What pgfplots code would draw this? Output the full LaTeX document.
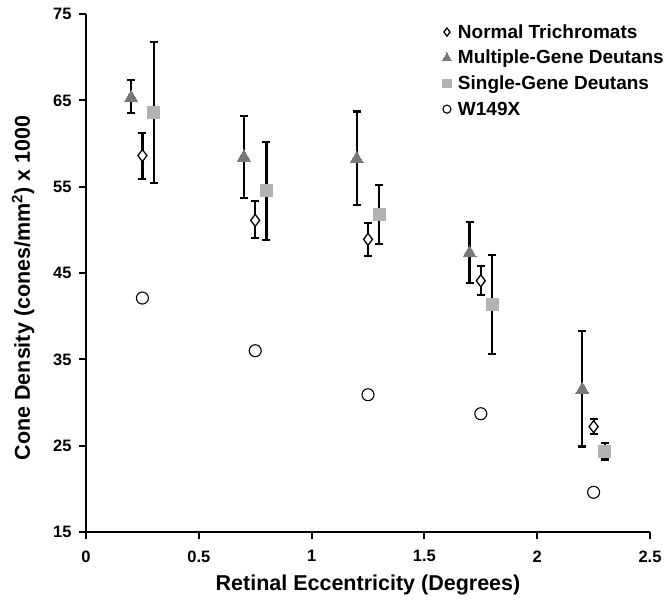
\documentclass[border=0pt]{standalone}
\usepackage{pgfplots}
\pgfplotsset{compat=1.18}
\usepackage{fontspec}
\setmainfont{Liberation Sans}
\begin{document}
\begin{tikzpicture}
\begin{axis}[name=ax,
  scale only axis, width=564pt, height=518pt,
  xmin=0, xmax=2.5, ymin=15, ymax=75,
  xtick={0,0.5,1,1.5,2,2.5}, ytick={15,25,35,45,55,65,75},
  xticklabels={0,0.5,1,1.5,2,2.5},
  axis x line*=bottom, axis y line*=left,
  axis line style={line width=2pt, -},
  tick style={line width=2pt, black},
  tick align=outside, major tick length=7pt,
  /pgf/number format/assume math mode=true,
  yticklabel style={font=\fontsize{16.5}{18}\selectfont\bfseries, xshift=-4pt},
  xticklabel style={font=\fontsize{16.5}{18}\selectfont\bfseries, yshift=-8pt},
  xlabel={Retinal Eccentricity (Degrees)},
  ylabel={Cone Density (cones/mm\textsuperscript{2}) x 1000},
  label style={font=\fontsize{21.5}{24}\selectfont\bfseries},
  xlabel style={yshift=-6pt},
  ylabel style={xshift=-15pt, yshift=12pt},
  legend style={draw=none, fill=none, at={(0.63,0.986)}, anchor=north west,
    font=\fontsize{19}{22}\selectfont\bfseries, row sep=6.5pt,
    legend cell align=left, inner sep=1pt},
  legend image code/.code={\draw[#1,/tikz/every mark/.append style={scale=0.68}] plot coordinates {(0.35cm,0cm)}; \path[draw=none] (0.35cm,0cm) -- ++(9pt,0pt);},
  error bars/error bar style={line width=2.2pt, black},
  error bars/error mark options={rotate=90, mark size=4pt, line width=2.2pt, black},
  clip=false,
]
% error bars (drawn first, under the markers)
\addplot[forget plot, only marks, mark=none, error bars/y dir=both, error bars/y explicit]
  coordinates {
  (0.25,58.6) +=(0,2.65) -=(0,2.7)
  (0.75,51.1) +=(0,2.2) -=(0,2.0)
  (1.25,48.9) +=(0,1.9) -=(0,1.9)
  (1.75,44.1) +=(0,1.7) -=(0,1.65)
  (2.25,27.2) +=(0,0.85) -=(0,0.85)
  (0.2,65.3) +=(0,2.05) -=(0,1.8)
  (0.7,58.4) +=(0,4.8) -=(0,4.7)
  (1.2,58.2) +=(0,5.5) -=(0,5.3)
  (1.7,47.3) +=(0,3.6) -=(0,3.5)
  (2.2,31.5) +=(0,6.8) -=(0,6.6)
  (0.3,63.6) +=(0,8.2) -=(0,8.2)
  (0.8,54.5) +=(0,5.7) -=(0,5.7)
  (1.3,51.8) +=(0,3.4) -=(0,3.4)
  (1.8,41.4) +=(0,5.7) -=(0,5.8)
  (2.3,24.3) +=(0,1.05) -=(0,0.9)
  };
\addplot[only marks, mark=diamond*, mark size=6pt, mark options={fill=white, draw=black, line width=1.3pt}]
  coordinates {(0.25,58.6) (0.75,51.1) (1.25,48.9) (1.75,44.1) (2.25,27.2)};
\addlegendentry{Normal Trichromats}
\addplot[only marks, mark=triangle*, mark size=7.5pt, mark options={fill=gray!95!black, draw=gray!95!black, line width=0pt}]
  coordinates {(0.2,65.3) (0.7,58.4) (1.2,58.2) (1.7,47.3) (2.2,31.5)};
\addlegendentry{Multiple-Gene Deutans}
\addplot[only marks, mark=square*, mark size=6pt, mark options={fill=black!30, draw=black!30, line width=0pt}]
  coordinates {(0.3,63.6) (0.8,54.5) (1.3,51.8) (1.8,41.4) (2.3,24.3)};
\addlegendentry{Single-Gene Deutans}
\addplot[only marks, mark=o, mark size=6pt, mark options={draw=black, fill=white, line width=1.1pt}]
  coordinates {(0.25,42.1) (0.75,36.0) (1.25,30.9) (1.75,28.7) (2.25,19.6)};
\addlegendentry{W149X}
\end{axis}
\pgfresetboundingbox
\path[use as bounding box] ([xshift=-86pt,yshift=-67pt]ax.south west) rectangle ([xshift=15pt,yshift=14pt]ax.north east);
\end{tikzpicture}
\end{document}
